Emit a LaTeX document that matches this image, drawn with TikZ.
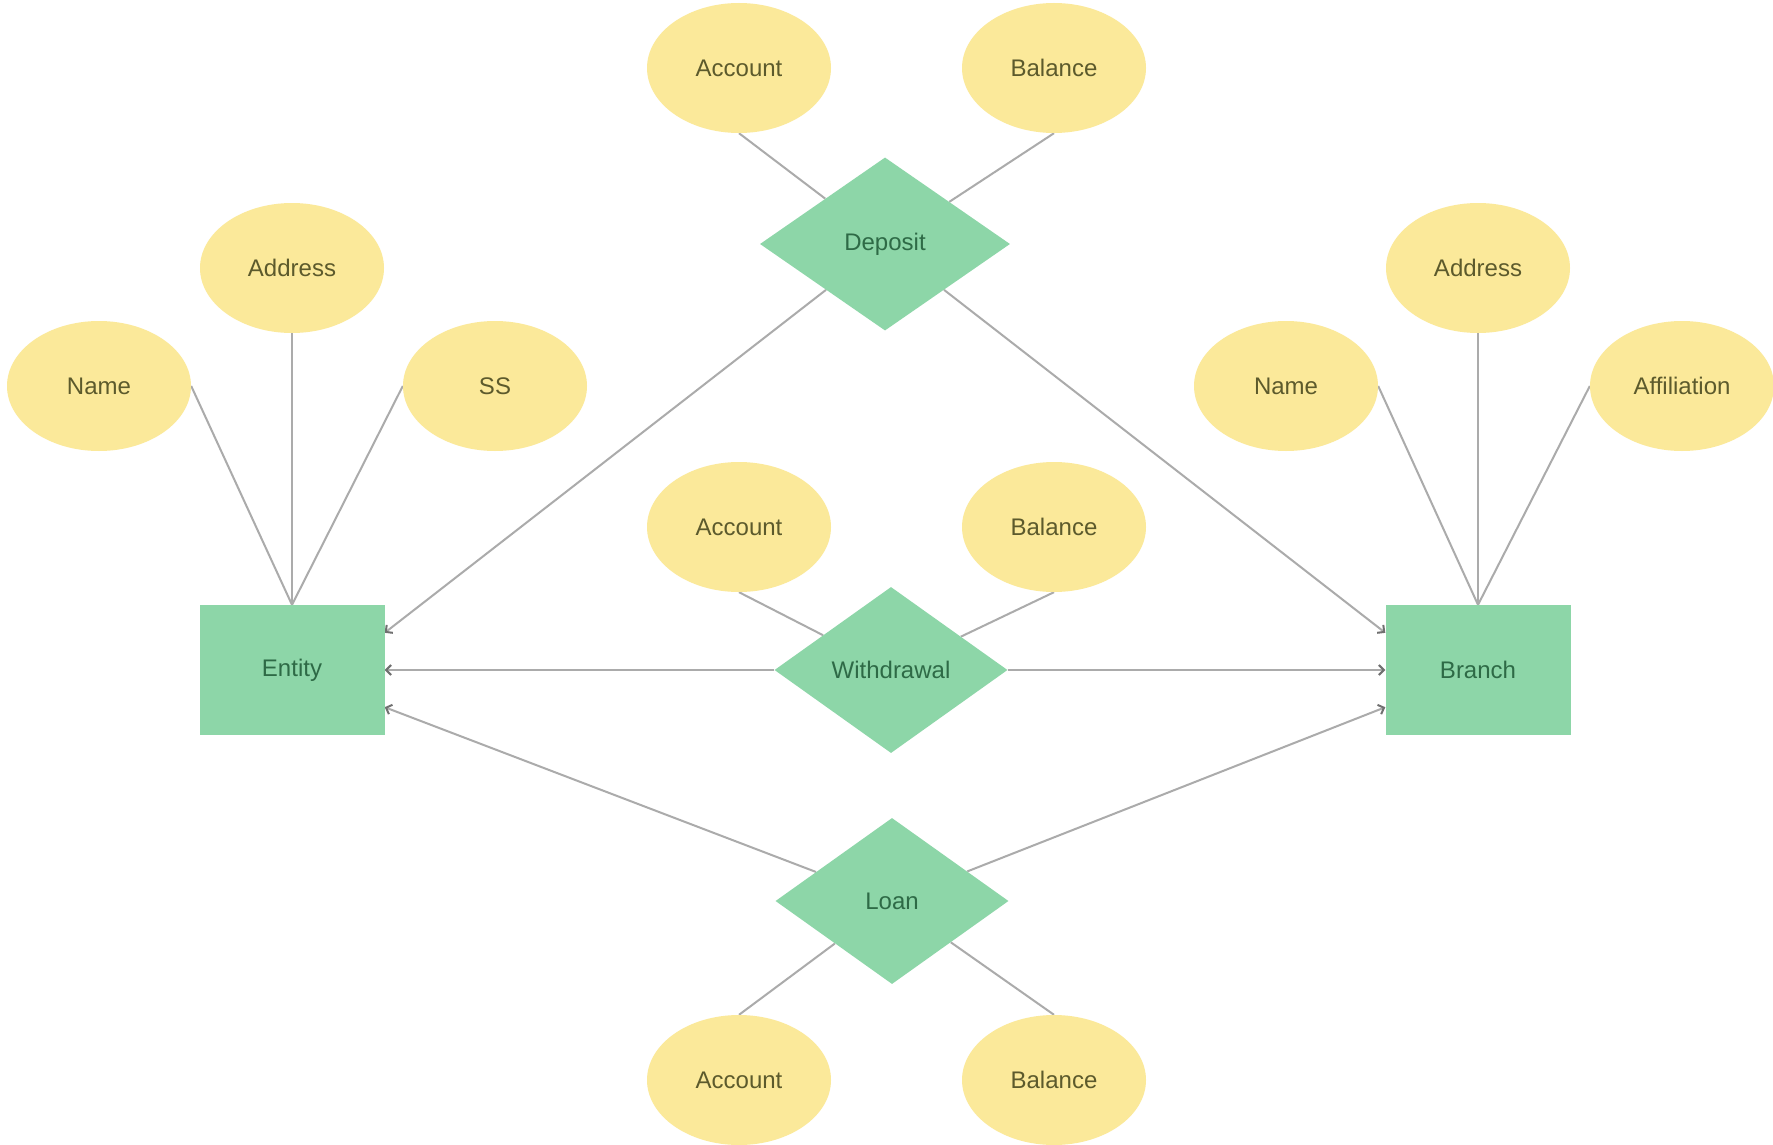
\documentclass[tikz,border=0pt]{standalone}
\usepackage{fontspec}
\setmainfont{Liberation Sans}
\usetikzlibrary{shapes.geometric,arrows.meta}
\definecolor{attrfill}{HTML}{FBE99A}
\definecolor{attrtext}{HTML}{5C5A2C}
\definecolor{entfill}{HTML}{8DD6A8}
\definecolor{enttext}{HTML}{2E6A46}
\definecolor{linkgray}{HTML}{ABABAB}
\definecolor{tipgray}{HTML}{707070}
\pgfdeclarelayer{bg}
\pgfdeclarelayer{edges}
\pgfsetlayers{bg,edges,main}
\begin{document}
\begin{tikzpicture}[x=1pt,y=-1pt,
  lbl/.style={font=\fontsize{24}{28}\selectfont},
  attr/.style={lbl,ellipse,fill=attrfill,draw=none,minimum width=184pt,minimum height=130pt,inner sep=0pt,text=attrtext},
  entbox/.style={lbl,rectangle,fill=entfill,draw=none,minimum width=185pt,minimum height=130pt,inner sep=0pt,text=enttext},
  relbox/.style={lbl,diamond,fill=entfill,draw=none,inner sep=0pt,text=enttext},
  attrline/.style={draw=linkgray,line width=2pt},
  relline/.style={draw=linkgray,line width=2pt,-{Straight Barb[color=tipgray,length=5pt,width=10pt]}}]
\useasboundingbox (0,0) rectangle (1773,1145);
\begin{pgfonlayer}{bg}
\fill[white] (0,0) rectangle (1773,1145);
\end{pgfonlayer}

% entities
\node[entbox] (ent) at (292,670) {Entity};
\node[entbox] (br) at (1478,670) {Branch};

% relationships
\node[relbox,minimum width=250pt,minimum height=173pt] (dep) at (885,244) {Deposit};
\node[relbox,minimum width=233pt,minimum height=166pt] (wd) at (891,670) {Withdrawal};
\node[relbox,minimum width=233pt,minimum height=166pt] (loan) at (892,901) {Loan};

% attributes
\node[attr] (depacc) at (739,68) {Account};
\node[attr] (depbal) at (1054,68) {Balance};
\node[attr] (entaddr) at (292,268) {Address};
\node[attr] (entname) at (99,386) {Name};
\node[attr] (entss) at (495,386) {SS};
\node[attr] (braddr) at (1478,268) {Address};
\node[attr] (brname) at (1286,386) {Name};
\node[attr] (braff) at (1682,386) {Affiliation};
\node[attr] (wdacc) at (739,527) {Account};
\node[attr] (wdbal) at (1054,527) {Balance};
\node[attr] (loanacc) at (739,1080) {Account};
\node[attr] (loanbal) at (1054,1080) {Balance};

\begin{pgfonlayer}{edges}
  % attribute lines
  \draw[attrline] (depacc.south) -- (dep);
  \draw[attrline] (depbal.south) -- (dep);
  \draw[attrline] (wdacc.south) -- (wd);
  \draw[attrline] (wdbal.south) -- (wd);
  \draw[attrline] (loanacc.north) -- (loan);
  \draw[attrline] (loanbal.north) -- (loan);
  \draw[attrline] (entname.east) -- (ent.north);
  \draw[attrline] (entaddr.south) -- (ent.north);
  \draw[attrline] (entss.west) -- (ent.north);
  \draw[attrline] (brname.east) -- (br.north);
  \draw[attrline] (braddr.south) -- (br.north);
  \draw[attrline] (braff.west) -- (br.north);
  % relationship lines
  \draw[relline] (dep) -- ([yshift=-28pt]ent.north east);
  \draw[relline] (dep) -- ([yshift=-28pt]br.north west);
  \draw[relline] (wd) -- (ent.east);
  \draw[relline] (wd) -- (br.west);
  \draw[relline] (loan) -- ([yshift=28pt]ent.south east);
  \draw[relline] (loan) -- ([yshift=28pt]br.south west);
\end{pgfonlayer}
\end{tikzpicture}
\end{document}
